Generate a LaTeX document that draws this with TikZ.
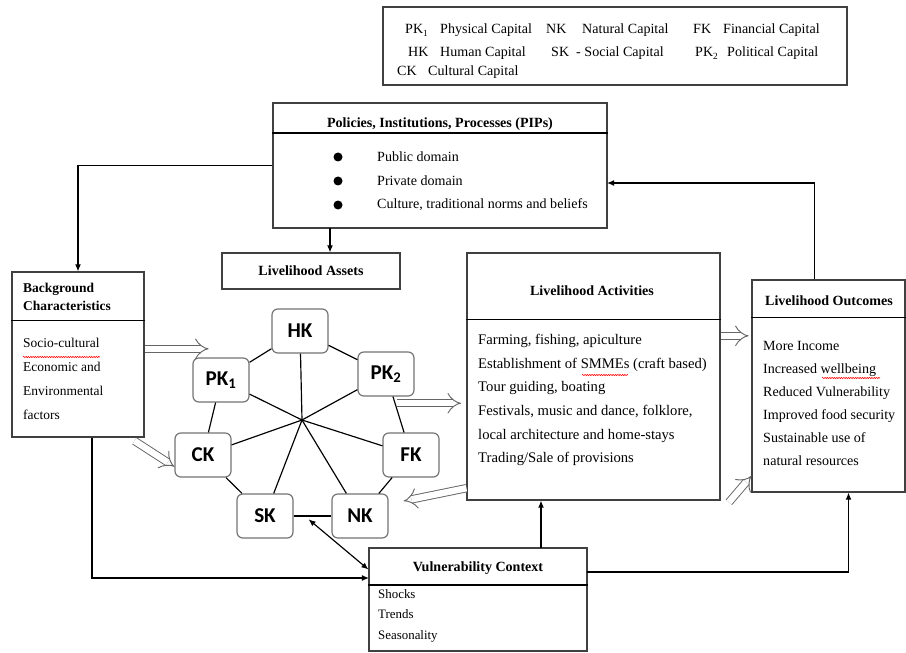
\documentclass[tikz,border=0pt]{standalone}
\usepackage{fontspec}
\setmainfont{Liberation Serif}
\newfontfamily\capfont{Carlito}
\usetikzlibrary{arrows.meta,decorations.pathmorphing}

\begin{document}
\begin{tikzpicture}
[
    x=0.03cm, y=-0.03cm,
    box/.style={draw=black!75, line width=1pt, fill=white},
    capnode/.style={draw=black!55, line width=1pt, rounded corners=5pt, fill=white,
        minimum width=1.68cm, minimum height=1.32cm,
        font=\capfont\bfseries\fontsize{18}{18}\selectfont},
    ttl/.style={font=\bfseries\fontsize{12}{14}\selectfont},
    txt/.style={anchor=north west, align=left, inner sep=0pt, font=\fontsize{12}{20}\selectfont},
    lgd/.style={anchor=base west, inner sep=0pt, font=\fontsize{12}{14}\selectfont},
    conn/.style={line width=1pt, -{Latex[length=6pt,width=5pt]}},
    conn2/.style={line width=1pt, {Latex[length=6pt,width=5pt]}-{Latex[length=6pt,width=5pt]}},
    spoke/.style={line width=1pt},
    hollow/.style={draw=black!60, double=white, double distance=5.5pt, line width=0.8pt, -{Implies[scale=1.35]}},
    spell/.style={red, line width=0.5pt, decorate, decoration={snake, amplitude=0.5pt, segment length=2pt}},
]
\useasboundingbox (0,0) rectangle (906,653);

% legend
\node[box, minimum width=13.92cm, minimum height=2.34cm] (legend) at (615,46) {};
\foreach \ab/\xa/\nm/\xb/\yy in {PK\textsubscript{1}/405/Physical Capital/440/34,
    NK/546/Natural Capital/582/34, FK/693/Financial Capital/723/34,
    HK/408/Human Capital/440/57, SK/551/- Social Capital/576/57,
    PK\textsubscript{2}/695/Political Capital/727/57, CK/397/Cultural Capital/428/76}
{
    \node[lgd] (ab\xa) at (\xa,\yy) {\ab};
    \node[lgd] (nm\xb\yy) at (\xb,\yy) {\nm};
}

% policies, institutions, processes
\node[box, minimum width=10.02cm, minimum height=3.75cm] (pips) at (440,165.5) {};
\node[ttl] (pipsttl) at (440,124) {Policies, Institutions, Processes (PIPs)};
\draw[line width=1.6pt] ([yshift=-0.93cm]pips.north west) -- ([yshift=-0.93cm]pips.north east);
\foreach \y/\t in {157/Public domain, 181/Private domain, 205/{Culture, traditional norms and beliefs}}
{
    \fill (338,\y) circle (4.5);
    \node[anchor=west, inner sep=0pt, font=\fontsize{12}{14}\selectfont] (pip\y) at (377,\y) {\t};
}

% livelihood assets
\node[box, minimum width=5.34cm, minimum height=1.08cm, ttl] (assets) at (311,271) {Livelihood Assets};

% background characteristics
\node[box, minimum width=3.96cm, minimum height=4.95cm] (bg) at (78,354.5) {};
\node[txt, font=\bfseries\fontsize{11.5}{15.5}\selectfont] (bgttl) at (23,283) {Background\\Characteristics};
\draw[line width=1.2pt] ([yshift=-1.47cm]bg.north west) -- ([yshift=-1.47cm]bg.north east);
\node[txt, font=\fontsize{11.5}{20.5}\selectfont] (bgtxt) at (23,338) {Socio-cultural\\Economic and\\Environmental\\factors};

% livelihood activities
\node[box, minimum width=7.59cm, minimum height=7.41cm] (act) at (593.5,376.5) {};
\node[ttl] (actttl) at (592,291) {Livelihood Activities};
\draw[line width=1.2pt] ([yshift=-2.01cm]act.north west) -- ([yshift=-2.01cm]act.north east);
\node[txt, font=\fontsize{12.5}{20.2}\selectfont] (acttxt) at (478,334) {Farming, fishing, apiculture\\
    Establishment of SMMEs (craft based)\\Tour guiding, boating\\
    Festivals, music and dance, folklore,\\local architecture and home-stays\\
    Trading/Sale of provisions};

% livelihood outcomes
\node[box, minimum width=4.59cm, minimum height=6.36cm] (out) at (828.5,386) {};
\node[ttl] (outttl) at (829,301) {Livelihood Outcomes};
\draw[line width=1.2pt] ([yshift=-1.14cm]out.north west) -- ([yshift=-1.14cm]out.north east);
\node[txt, font=\fontsize{12}{19.6}\selectfont] (outtxt) at (763,341) {More Income\\Increased wellbeing\\
    Reduced Vulnerability\\Improved food security\\Sustainable use of\\natural resources};

% vulnerability context
\node[box, minimum width=6.54cm, minimum height=3.09cm] (vul) at (478,599.5) {};
\node[ttl] (vulttl) at (478,568) {Vulnerability Context};
\node[txt, font=\fontsize{11}{17.5}\selectfont] (vultxt) at (378,589) {Shocks\\Trends\\Seasonality};
\draw[line width=1.8pt] ([yshift=-1.14cm]vul.north west) -- ([yshift=-1.14cm]vul.north east);

% spelling marks
\draw[spell] (23,357) -- (100,357);
\draw[spell] (582,375) -- (628,375);
\draw[spell] (822,378) -- (880,378);

% capitals
\coordinate (hub) at (302,420);
\node[capnode] (hk) at (300,331) {HK};
\node[capnode] (pk1) at (221,380) {PK\textsubscript{1}};
\node[capnode] (pk2) at (386,374) {PK\textsubscript{2}};
\node[capnode] (ck) at (203,455) {CK};
\node[capnode] (fk) at (411,455) {FK};
\node[capnode] (sk) at (265,516) {SK};
\node[capnode] (nk) at (360,516) {NK};
\foreach \n in {hk,pk1,pk2,ck,fk,sk,nk}
    \draw[spoke] (hub) -- (\n);
\foreach \a/\b in {hk/pk1,hk/pk2,pk1/ck,pk2/fk,ck/sk,fk/nk,sk/nk}
    \draw[spoke] (\a) -- (\b);

% connectors
\coordinate (pipsdn) at (330,228);
\coordinate (pipsin) at (607,183);
\coordinate (vulin) at (369,578);
\coordinate (vulout) at (587,572);
\coordinate (vulup) at (541,548);
\draw[conn] (pips.west) -| (bg.north);
\draw[conn] (pipsdn) -- (pipsdn |- assets.north);
\draw[conn] ([xshift=-0.42cm]out.north) |- (pipsin);
\draw[conn] ([xshift=0.42cm]bg.south) |- (vulin);
\draw[conn] (vulout) -| ([xshift=0.6cm]out.south);
\draw[conn] (vulup) -- (vulup |- act.south);
\draw[conn2] ([xshift=0.45cm,yshift=-0.1cm]sk.east) -- ([yshift=0.9cm]vul.west);

% hollow arrows
\draw[hollow] ([yshift=0.17cm]bg.east) -- ++(64,0);
\draw[hollow] ([xshift=0.33cm,yshift=-0.2cm]pk2.south) -- ++(64,0);
\draw[hollow] ([xshift=-0.3cm,yshift=-0.1cm]bg.south east) -- ([yshift=-0.35cm]ck.west);
\draw[hollow] ([yshift=-3.35cm]act.west) -- ([xshift=0.45cm,yshift=0.45cm]nk.east);
\draw[hollow] ([yshift=1.22cm]act.east) -- ++(28,0);
\draw[hollow] ([xshift=0.25cm,yshift=-0.05cm]act.south east) -- ([yshift=0.5cm]out.south west);
\end{tikzpicture}
\end{document}
